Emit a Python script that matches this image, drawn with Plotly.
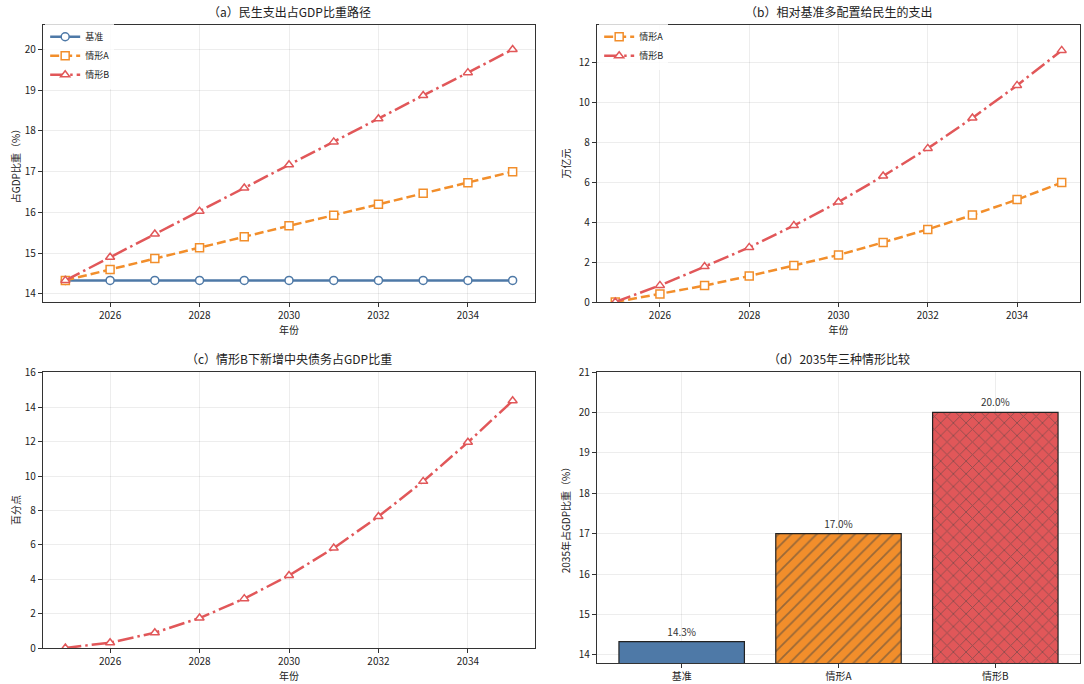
import plotly.graph_objects as go

years = [2025, 2026, 2027, 2028, 2029, 2030, 2031, 2032, 2033, 2034, 2035]
base_share = [14.33, 14.33, 14.33, 14.33, 14.33, 14.33, 14.33, 14.33, 14.33, 14.33, 14.33]
a_share = [14.33, 14.6, 14.87, 15.13, 15.4, 15.67, 15.93, 16.2, 16.47, 16.73, 17.0]
b_share = [14.33, 14.9, 15.47, 16.03, 16.6, 17.17, 17.73, 18.3, 18.87, 19.43, 20.0]

a_extra = [0.0, 0.4, 0.82, 1.3, 1.82, 2.35, 2.98, 3.63, 4.35, 5.12, 5.97]
b_extra = [0.0, 0.83, 1.77, 2.73, 3.82, 5.0, 6.3, 7.68, 9.2, 10.83, 12.58]

b_debt = [0.0, 0.31, 0.89, 1.74, 2.87, 4.22, 5.81, 7.65, 9.69, 11.96, 14.38]

bar_cats = ["基准", "情形A", "情形B"]
bar_vals = [14.33, 17.0, 20.0]
bar_labels = ["14.3%", "17.0%", "20.0%"]

BLUE = "#4e79a7"
ORANGE = "#f28e2b"
RED = "#e15759"
FONT = "Noto Sans CJK SC"

fig = go.Figure()

def line(x, y, name, color, dash, symbol, xa, ya, legend=None, showlegend=True):
    return go.Scatter(
        x=x, y=y, name=name, mode="lines+markers",
        line=dict(color=color, width=2.5, dash=dash),
        marker=dict(symbol=symbol, size=8, color="white",
                    line=dict(color=color, width=1.5)),
        xaxis=xa, yaxis=ya, legend=legend, showlegend=showlegend,
    )

DASH = "9px,4px"
DASHDOT = "16px,4px,2.5px,4px"

fig.add_trace(line(years, base_share, "基准", BLUE, "solid", "circle", "x", "y", "legend"))
fig.add_trace(line(years, a_share, "情形A", ORANGE, DASH, "square", "x", "y", "legend"))
fig.add_trace(line(years, b_share, "情形B", RED, DASHDOT, "triangle-up", "x", "y", "legend"))

fig.add_trace(line(years, a_extra, "情形A", ORANGE, DASH, "square", "x2", "y2", "legend2"))
fig.add_trace(line(years, b_extra, "情形B", RED, DASHDOT, "triangle-up", "x2", "y2", "legend2"))

fig.add_trace(line(years, b_debt, "情形B", RED, DASHDOT, "triangle-up", "x3", "y3", showlegend=False))

fig.add_trace(go.Bar(
    x=bar_cats, y=bar_vals, text=bar_labels, textposition="outside",
    textfont=dict(size=10, color="#333"),
    marker=dict(color=[BLUE, ORANGE, RED],
                line=dict(color="#222", width=1.2),
                pattern=dict(shape=["", "/", "x"], fgcolor="#000",
                             bgcolor=[BLUE, ORANGE, RED], size=9, solidity=0.2)),
    width=0.8, xaxis="x4", yaxis="y4", showlegend=False, cliponaxis=False,
))

L1, R1 = 43 / 1084, 535 / 1084
L2, R2 = 597 / 1084, 1080 / 1084
T1, B1 = 1 - 25 / 684, 1 - 302 / 684
T2, B2 = 1 - 372 / 684, 1 - 648 / 684
B4 = 1 - 663 / 684

axis_common = dict(showline=True, mirror=True, linecolor="#333", linewidth=1.3,
                   ticks="outside", ticklen=4, tickcolor="#333", tickwidth=1,
                   showgrid=True, gridcolor="rgba(0,0,0,0.07)", gridwidth=1,
                   zeroline=False, tickfont=dict(size=10, color="#222"),
                   automargin=False)
xt = dict(tickmode="array", tickvals=[2026, 2028, 2030, 2032, 2034],
          title=dict(text="年份", font=dict(size=10), standoff=2))

fig.update_layout(
    width=1084, height=684, margin=dict(l=0, r=0, t=0, b=0, autoexpand=False),
    paper_bgcolor="white", plot_bgcolor="white",
    font=dict(family=FONT, color="#222"),
    xaxis=dict(domain=[L1, R1], range=[2024.5, 2035.5], anchor="y", **xt, **axis_common),
    yaxis=dict(domain=[B1, T1], range=[13.8, 20.6], dtick=1, anchor="x",
               title=dict(text="占GDP比重（%）", font=dict(size=10), standoff=2), **axis_common),
    xaxis2=dict(domain=[L2, R2], range=[2024.59, 2035.41], anchor="y2", **xt, **axis_common),
    yaxis2=dict(domain=[B1, T1], range=[0, 13.85], dtick=2, anchor="x2",
                title=dict(text="万亿元", font=dict(size=10), standoff=6), **axis_common),
    xaxis3=dict(domain=[L1, R1], range=[2024.5, 2035.5], anchor="y3", **xt, **axis_common),
    yaxis3=dict(domain=[B2, T2], range=[0, 16.05], dtick=2, anchor="x3",
                title=dict(text="百分点", font=dict(size=10), standoff=2), **axis_common),
    xaxis4=dict(domain=[L2, R2], range=[-0.54, 2.54], anchor="y4", type="category", **axis_common),
    yaxis4=dict(domain=[B4, T2], range=[13.8, 21], dtick=1, anchor="x4",
                title=dict(text="2035年占GDP比重（%）", font=dict(size=10), standoff=6), **axis_common),
    legend=dict(x=L1 + 0.002, y=T1 + 0.004, xanchor="left", yanchor="top",
                bgcolor="rgba(255,255,255,0.8)", font=dict(size=9), tracegroupgap=0,
                itemwidth=30),
    legend2=dict(x=L2 + 0.002, y=T1 + 0.004, xanchor="left", yanchor="top",
                 bgcolor="rgba(255,255,255,0.8)", font=dict(size=9), tracegroupgap=0,
                 itemwidth=30),
    bargap=0.2,
)

titles = [
    ("（a）民生支出占GDP比重路径", (L1 + R1) / 2, T1),
    ("（b）相对基准多配置给民生的支出", (L2 + R2) / 2, T1),
    ("（c）情形B下新增中央债务占GDP比重", (L1 + R1) / 2, T2),
    ("（d）2035年三种情形比较", (L2 + R2) / 2, T2),
]
for text, x, y in titles:
    fig.add_annotation(text=text, x=x, y=y, xref="paper", yref="paper",
                       xanchor="center", yanchor="bottom", yshift=3, showarrow=False,
                       font=dict(size=12, color="#222"))

fig.write_html("out.html", config={"displayModeBar": False},
               post_script="document.body.style.margin='0';document.body.style.overflow='hidden';")
